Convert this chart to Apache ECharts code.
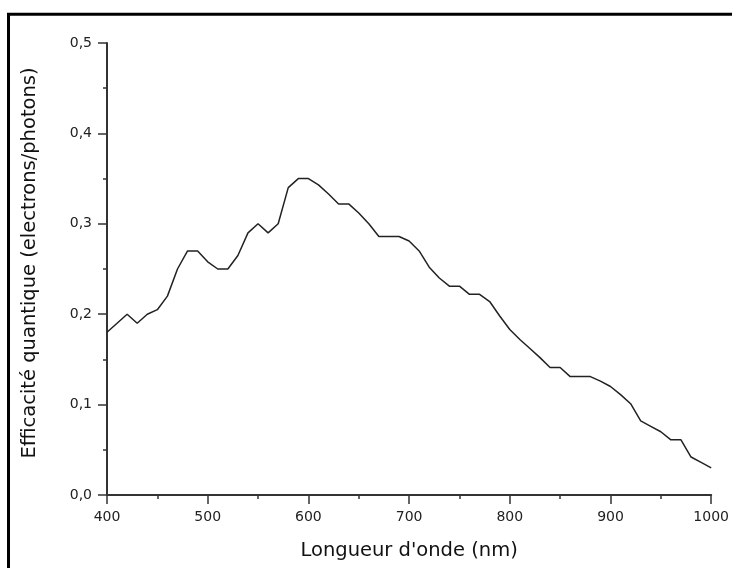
<!DOCTYPE html>
<html>
<head>
<meta charset="utf-8">
<script src="https://cdn.jsdelivr.net/npm/echarts@6/dist/echarts.min.js"></script>
<style>html,body{margin:0;padding:0;background:#fff}#c{width:732px;height:568px}</style>
</head>
<body>
<div id="c"></div>
<script>
var wavelengths = [400,410,420,430,440,450,460,470,480,490,500,510,520,530,540,550,560,570,580,590,600,
  610,620,630,640,650,660,670,680,690,700,710,720,730,740,750,760,770,780,790,800,
  810,820,830,840,850,860,870,880,890,900,910,920,930,940,950,960,970,980,990,1000];
var efficiency = [0.18,0.19,0.20,0.19,0.20,0.205,0.22,0.25,0.27,0.27,0.258,0.25,0.25,0.265,0.29,0.30,0.29,0.30,0.34,0.35,0.35,
  0.343,0.333,0.322,0.322,0.312,0.30,0.286,0.286,0.286,0.281,0.27,0.252,0.24,0.231,0.231,0.222,0.222,0.214,0.198,0.183,
  0.172,0.162,0.152,0.141,0.141,0.131,0.131,0.131,0.126,0.12,0.111,0.101,0.082,0.076,0.07,0.061,0.061,0.042,0.036,0.03];
var xTitle = "Longueur d'onde (nm)";
var yTitle = "Efficacité quantique (electrons/photons)";

var chart = echarts.init(document.getElementById('c'), null, {renderer:'canvas'});
var data = wavelengths.map(function(w,i){return [w, efficiency[i]];});
var axisCommon = {
  axisLine:{show:true, onZero:false, lineStyle:{color:'#333', width:2}},
  axisTick:{show:true, inside:false, length:9, lineStyle:{color:'#333', width:1.5}},
  minorTick:{show:true, splitNumber:2, length:4, lineStyle:{color:'#333', width:1.5}},
  splitLine:{show:false},
  axisLabel:{color:'#222', fontFamily:'DejaVu Sans', fontSize:14}
};
chart.setOption({
  animation:false,
  backgroundColor:'#fff',
  graphic:[{type:'rect', shape:{x:8.5, y:14.3, width:800, height:700}, style:{fill:null, stroke:'#000', lineWidth:3}, z:100}],
  grid:{left:107, top:43, right:20, bottom:73},
  xAxis:Object.assign({}, axisCommon, {
    type:'value', min:400, max:1000, interval:100,
    name:xTitle, nameLocation:'middle', nameGap:46,
    nameTextStyle:{fontFamily:'DejaVu Sans', fontSize:19.5, color:'#111'},
    axisLabel:Object.assign({}, axisCommon.axisLabel, {margin:15, formatter:function(v){return String(v);}})
  }),
  yAxis:Object.assign({}, axisCommon, {
    type:'value', min:0, max:0.5, interval:0.1,
    name:yTitle, nameLocation:'middle', nameGap:67,
    nameTextStyle:{fontFamily:'DejaVu Sans', fontSize:19.5, color:'#111', padding:[0,0,0,12]},
    axisLabel:Object.assign({}, axisCommon.axisLabel, {margin:15, formatter:function(v){return v.toFixed(1).replace('.',',');}})
  }),
  series:[{type:'line', data:data, symbol:'none', lineStyle:{color:'#222', width:1.5}}]
});
</script>
</body>
</html>
